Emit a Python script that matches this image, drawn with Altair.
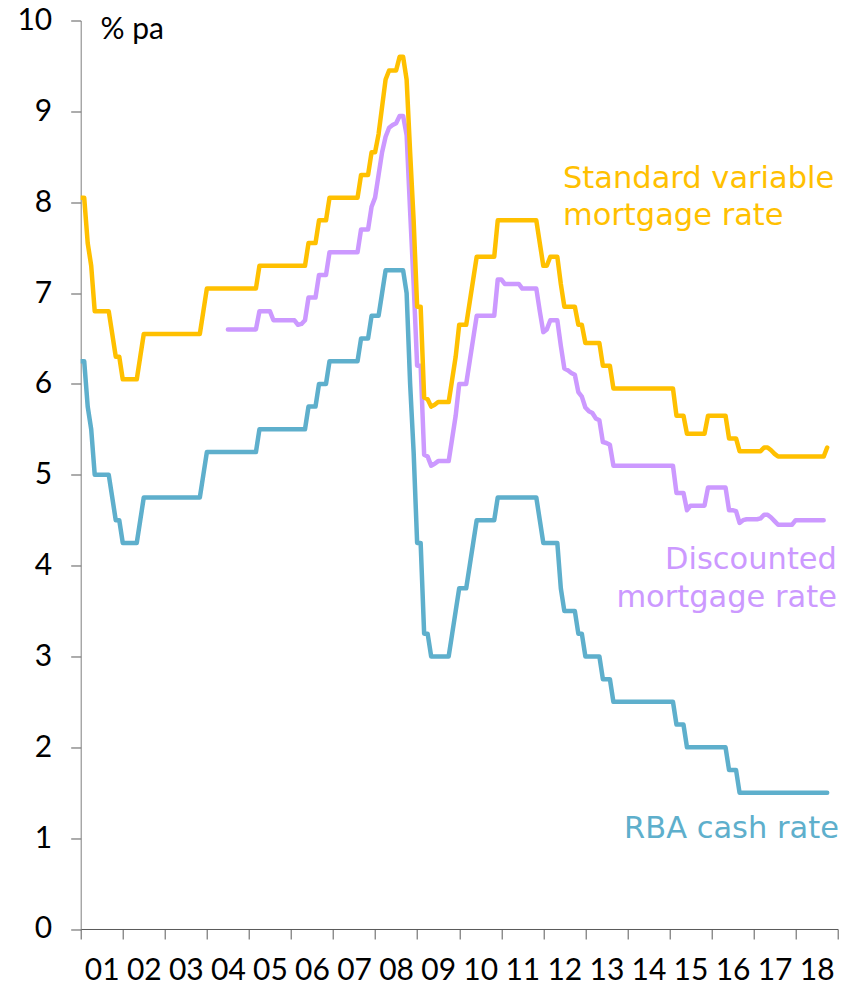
import altair as alt
import pandas as pd

TICK_FONT = "Lato"
NOTE_FONT = "DejaVu Sans"

# Month-end values, first point = Dec 2000, last = Sep 2018
CASH_RATE = [
    6.25,  # Dec 2000
    6.25, 5.75, 5.50, 5.00, 5.00, 5.00, 5.00, 5.00, 4.75, 4.50, 4.50, 4.25,  # 2001
    4.25, 4.25, 4.25, 4.25, 4.50, 4.75, 4.75, 4.75, 4.75, 4.75, 4.75, 4.75,  # 2002
    4.75, 4.75, 4.75, 4.75, 4.75, 4.75, 4.75, 4.75, 4.75, 4.75, 5.00, 5.25,  # 2003
    5.25, 5.25, 5.25, 5.25, 5.25, 5.25, 5.25, 5.25, 5.25, 5.25, 5.25, 5.25,  # 2004
    5.25, 5.25, 5.50, 5.50, 5.50, 5.50, 5.50, 5.50, 5.50, 5.50, 5.50, 5.50,  # 2005
    5.50, 5.50, 5.50, 5.50, 5.75, 5.75, 5.75, 6.00, 6.00, 6.00, 6.25, 6.25,  # 2006
    6.25, 6.25, 6.25, 6.25, 6.25, 6.25, 6.25, 6.50, 6.50, 6.50, 6.75, 6.75,  # 2007
    6.75, 7.00, 7.25, 7.25, 7.25, 7.25, 7.25, 7.25, 7.00, 6.00, 5.25, 4.25,  # 2008
    4.25, 3.25, 3.25, 3.00, 3.00, 3.00, 3.00, 3.00, 3.00, 3.25, 3.50, 3.75,  # 2009
    3.75, 3.75, 4.00, 4.25, 4.50, 4.50, 4.50, 4.50, 4.50, 4.50, 4.75, 4.75,  # 2010
    4.75, 4.75, 4.75, 4.75, 4.75, 4.75, 4.75, 4.75, 4.75, 4.75, 4.50, 4.25,  # 2011
    4.25, 4.25, 4.25, 4.25, 3.75, 3.50, 3.50, 3.50, 3.50, 3.25, 3.25, 3.00,  # 2012
    3.00, 3.00, 3.00, 3.00, 2.75, 2.75, 2.75, 2.50, 2.50, 2.50, 2.50, 2.50,  # 2013
    2.50, 2.50, 2.50, 2.50, 2.50, 2.50, 2.50, 2.50, 2.50, 2.50, 2.50, 2.50,  # 2014
    2.50, 2.25, 2.25, 2.25, 2.00, 2.00, 2.00, 2.00, 2.00, 2.00, 2.00, 2.00,  # 2015
    2.00, 2.00, 2.00, 2.00, 1.75, 1.75, 1.75, 1.50, 1.50, 1.50, 1.50, 1.50,  # 2016
    1.50, 1.50, 1.50, 1.50, 1.50, 1.50, 1.50, 1.50, 1.50, 1.50, 1.50, 1.50,  # 2017
    1.50, 1.50, 1.50, 1.50, 1.50, 1.50, 1.50, 1.50, 1.50,  # 2018 (Jan-Sep)
]

STANDARD_VARIABLE = [
    8.05,  # Dec 2000
    8.05, 7.55, 7.30, 6.80, 6.80, 6.80, 6.80, 6.80, 6.55, 6.30, 6.30, 6.05,  # 2001
    6.05, 6.05, 6.05, 6.05, 6.30, 6.55, 6.55, 6.55, 6.55, 6.55, 6.55, 6.55,  # 2002
    6.55, 6.55, 6.55, 6.55, 6.55, 6.55, 6.55, 6.55, 6.55, 6.55, 6.80, 7.05,  # 2003
    7.05, 7.05, 7.05, 7.05, 7.05, 7.05, 7.05, 7.05, 7.05, 7.05, 7.05, 7.05,  # 2004
    7.05, 7.05, 7.30, 7.30, 7.30, 7.30, 7.30, 7.30, 7.30, 7.30, 7.30, 7.30,  # 2005
    7.30, 7.30, 7.30, 7.30, 7.55, 7.55, 7.55, 7.80, 7.80, 7.80, 8.05, 8.05,  # 2006
    8.05, 8.05, 8.05, 8.05, 8.05, 8.05, 8.05, 8.30, 8.30, 8.30, 8.55, 8.55,  # 2007
    8.75, 9.05, 9.35, 9.45, 9.45, 9.45, 9.60, 9.60, 9.35, 8.55, 7.80, 6.85,  # 2008
    6.85, 5.85, 5.83, 5.75, 5.77, 5.80, 5.80, 5.80, 5.80, 6.05, 6.30, 6.65,  # 2009
    6.65, 6.65, 6.90, 7.15, 7.40, 7.40, 7.40, 7.40, 7.40, 7.40, 7.80, 7.80,  # 2010
    7.80, 7.80, 7.80, 7.80, 7.80, 7.80, 7.80, 7.80, 7.80, 7.80, 7.55, 7.30,  # 2011
    7.30, 7.40, 7.40, 7.40, 7.10, 6.85, 6.85, 6.85, 6.85, 6.65, 6.65, 6.45,  # 2012
    6.45, 6.45, 6.45, 6.45, 6.20, 6.20, 6.20, 5.95, 5.95, 5.95, 5.95, 5.95,  # 2013
    5.95, 5.95, 5.95, 5.95, 5.95, 5.95, 5.95, 5.95, 5.95, 5.95, 5.95, 5.95,  # 2014
    5.95, 5.65, 5.65, 5.65, 5.45, 5.45, 5.45, 5.45, 5.45, 5.45, 5.65, 5.65,  # 2015
    5.65, 5.65, 5.65, 5.65, 5.40, 5.40, 5.40, 5.26, 5.26, 5.26, 5.26, 5.26,  # 2016
    5.26, 5.26, 5.30, 5.30, 5.27, 5.23, 5.20, 5.20, 5.20, 5.20, 5.20, 5.20,  # 2017
    5.20, 5.20, 5.20, 5.20, 5.20, 5.20, 5.20, 5.20, 5.30,  # 2018 (Jan-Sep)
]

# Discounted rate: Jun 2004 to Aug 2018
DISCOUNTED_START = 42  # months after Dec 2000
DISCOUNTED = [
    6.60, 6.60, 6.60, 6.60, 6.60, 6.60, 6.60,  # 2004 (Jun-Dec)
    6.60, 6.60, 6.80, 6.80, 6.80, 6.80, 6.70, 6.70, 6.70, 6.70, 6.70, 6.70,  # 2005
    6.70, 6.65, 6.66, 6.70, 6.95, 6.95, 6.95, 7.20, 7.20, 7.20, 7.45, 7.45,  # 2006
    7.45, 7.45, 7.45, 7.45, 7.45, 7.45, 7.45, 7.70, 7.70, 7.70, 7.95, 8.05,  # 2007
    8.30, 8.55, 8.72, 8.82, 8.85, 8.87, 8.95, 8.95, 8.74, 7.90, 7.10, 6.20,  # 2008
    6.20, 5.22, 5.20, 5.10, 5.12, 5.15, 5.15, 5.15, 5.15, 5.40, 5.65, 6.00,  # 2009
    6.00, 6.00, 6.25, 6.50, 6.75, 6.75, 6.75, 6.75, 6.75, 6.75, 7.15, 7.15,  # 2010
    7.10, 7.10, 7.10, 7.10, 7.10, 7.05, 7.05, 7.05, 7.05, 7.05, 6.80, 6.57,  # 2011
    6.60, 6.70, 6.70, 6.70, 6.42, 6.17, 6.15, 6.12, 6.10, 5.91, 5.86, 5.74,  # 2012
    5.70, 5.68, 5.62, 5.60, 5.36, 5.35, 5.33, 5.10, 5.10, 5.10, 5.10, 5.10,  # 2013
    5.10, 5.10, 5.10, 5.10, 5.10, 5.10, 5.10, 5.10, 5.10, 5.10, 5.10, 5.10,  # 2014
    5.10, 4.80, 4.80, 4.80, 4.61, 4.66, 4.66, 4.66, 4.66, 4.66, 4.86, 4.86,  # 2015
    4.86, 4.86, 4.86, 4.86, 4.61, 4.61, 4.60, 4.47, 4.50, 4.51, 4.51, 4.51,  # 2016
    4.51, 4.52, 4.56, 4.56, 4.53, 4.49, 4.45, 4.45, 4.45, 4.45, 4.45, 4.50,  # 2017
    4.50, 4.50, 4.50, 4.50, 4.50, 4.50, 4.50, 4.50,  # 2018 (Jan-Aug)
]

SERIES = ["RBA cash rate", "Discounted mortgage rate", "Standard variable mortgage rate"]
COLORS = ["#5EAFCC", "#CC99FF", "#FFC000"]
YEAR_TICKS = list(range(2001, 2020))
Y_TICKS = list(range(0, 11))

rows = []
for name, start, vals in [
    (SERIES[0], 0, CASH_RATE),
    (SERIES[1], DISCOUNTED_START, DISCOUNTED),
    (SERIES[2], 0, STANDARD_VARIABLE),
]:
    for k, v in enumerate(vals):
        rows.append({"series": name, "t": 2001 + (start + k) / 12, "v": v})
df = pd.DataFrame(rows)

# annotation labels (positions in data units)
LABEL_TEXT = ["% pa", "Standard variable", "mortgage rate", "Discounted", "mortgage rate", "RBA cash rate"]
LABEL_T = [2001.47, 2012.468, 2012.468, 2018.983, 2018.983, 2019.03]
LABEL_V = [9.80, 8.156, 7.749, 3.959, 3.548, 0.998]
LABEL_COLOR = ["#000000", "#FFC000", "#FFC000", "#CC99FF", "#CC99FF", "#5EAFCC"]
LABEL_ALIGN = ["left", "left", "left", "right", "right", "right"]
LABEL_FONT = [TICK_FONT, NOTE_FONT, NOTE_FONT, NOTE_FONT, NOTE_FONT, NOTE_FONT]
labels = pd.DataFrame({"text": LABEL_TEXT, "t": LABEL_T, "v": LABEL_V,
                       "col": LABEL_COLOR, "al": LABEL_ALIGN, "font": LABEL_FONT})

PLOT_W = 757
PLOT_H = 908.5
YEAR_PX = PLOT_W / 18

x_scale = alt.Scale(domain=[2001, 2019], nice=False, zero=False)
y_scale = alt.Scale(domain=[0, 10], nice=False, zero=True)

x_axis = alt.Axis(
    values=YEAR_TICKS,
    labelExpr="datum.value < 2019 ? substring(toString(datum.value), 2) : ''",
    labelOffset=YEAR_PX / 2, tickSize=10, labelPadding=17, labelFontSize=30,
    labelFont=TICK_FONT, labelColor="#000000", domainColor="#595959", tickColor="#595959",
    grid=False, title=None, labelFlush=False, labelOverlap=False,
)
y_axis = alt.Axis(
    values=Y_TICKS, format="d", tickSize=10, labelPadding=19, labelFontSize=30,
    labelFont=TICK_FONT, labelColor="#000000", domainColor="#808080", tickColor="#595959",
    grid=False, title=None, labelFlush=False, labelOverlap=False,
)

lines = alt.Chart(df).mark_line(
    strokeWidth=4.5, strokeCap="round", strokeJoin="round", clip=True
).encode(
    x=alt.X("t:Q", scale=x_scale, axis=x_axis),
    y=alt.Y("v:Q", scale=y_scale, axis=y_axis),
    color=alt.Color("series:N", scale=alt.Scale(domain=SERIES, range=COLORS), legend=None),
    order=alt.Order("t:Q"),
)

def text_layer(al, font, size):
    return alt.Chart(labels).transform_filter(
        (alt.datum.al == al) & (alt.datum.font == font)
    ).mark_text(
        align=al, baseline="alphabetic", font=font, fontSize=size
    ).encode(
        x=alt.X("t:Q", scale=x_scale),
        y=alt.Y("v:Q", scale=y_scale),
        text="text:N",
        color=alt.Color("col:N", scale=None),
    )

chart = alt.layer(
    lines,
    text_layer("left", TICK_FONT, 30),
    text_layer("left", NOTE_FONT, 30.5),
    text_layer("right", NOTE_FONT, 30.5),
).properties(
    width=PLOT_W, height=PLOT_H,
    autosize=alt.AutoSizeParams(type="none"),
    padding={"left": 72.7, "top": 12.5, "right": 2, "bottom": 58},
    background="white",
).configure_view(stroke=None)

chart.save("out.html", embed_options={"renderer": "svg", "actions": False})
